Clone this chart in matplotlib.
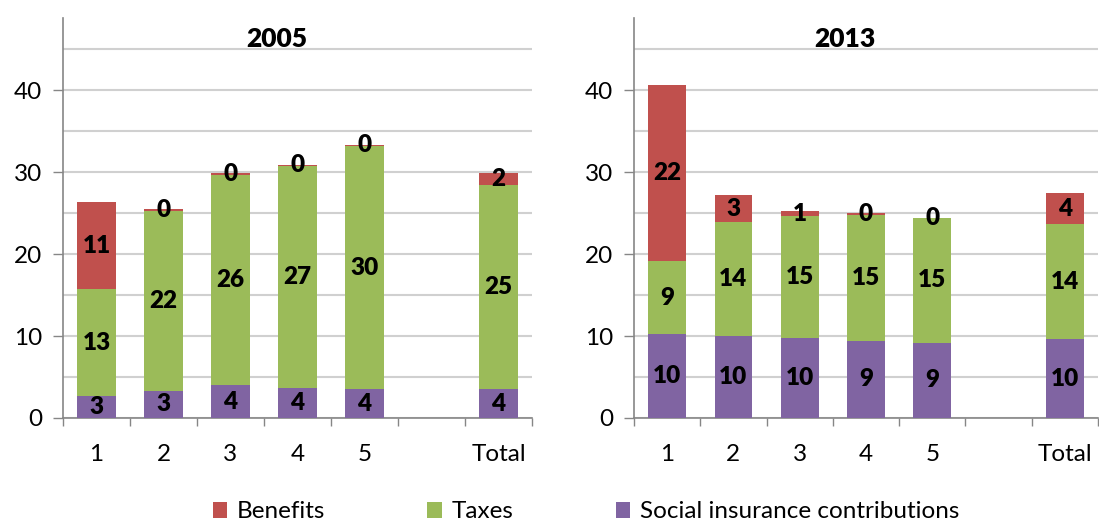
import numpy as np
import matplotlib
matplotlib.use("Agg")
import matplotlib.pyplot as plt
from matplotlib.ticker import FixedLocator, NullFormatter

plt.rcParams['font.family'] = ['Lato', 'DejaVu Sans']

categories = ['1', '2', '3', '4', '5', '', 'Total']
series_names = ['Benefits', 'Taxes', 'Social insurance contributions']

# 2005
sic_2005 = [2.7, 3.3, 4.0, 3.7, 3.5, np.nan, 3.5]
tax_2005 = [13.0, 22.0, 25.6, 27.1, 29.7, np.nan, 24.9]
ben_2005 = [10.6, 0.2, 0.3, 0.1, 0.1, np.nan, 1.5]
# 2013
sic_2013 = [10.2, 10.0, 9.8, 9.4, 9.2, np.nan, 9.6]
tax_2013 = [8.9, 13.9, 14.8, 15.4, 15.2, np.nan, 14.1]
ben_2013 = [21.5, 3.3, 0.6, 0.2, 0.05, np.nan, 3.7]

titles = ['2005', '2013']
colors = {'Benefits': '#C0504D', 'Taxes': '#9BBB59',
          'Social insurance contributions': '#8064A2'}

W, H = 1099, 523
fig = plt.figure(figsize=(W / 100, H / 100), dpi=100)

axes_px = [(63, 469), (634, 464)]
data = [(sic_2005, tax_2005, ben_2005), (sic_2013, tax_2013, ben_2013)]
grid_c = '#D0D0D0'
axis_c = '#868686'
FS = 17.5

for (left, width), (sic, tax, ben), title in zip(axes_px, data, titles):
    ax = fig.add_axes([left / W, 105 / H, width / W, 400 / H])
    x = np.arange(len(categories))
    sic = np.array(sic, float); tax = np.array(tax, float); ben = np.array(ben, float)
    bw = 0.57
    ax.bar(x, sic, bw, color=colors['Social insurance contributions'], zorder=3,
           label='Social insurance contributions')
    ax.bar(x, tax, bw, bottom=sic, color=colors['Taxes'], zorder=3, label='Taxes')
    ax.bar(x, ben, bw, bottom=sic + tax, color=colors['Benefits'], zorder=3, label='Benefits')
    for xi in x:
        if np.isnan(sic[xi]):
            continue
        segs = [(0, sic[xi]), (sic[xi], tax[xi]), (sic[xi] + tax[xi], ben[xi])]
        for b, h in segs:
            ax.text(xi, b + h / 2, f'{int(np.floor(h + 0.5))}', ha='center', va='center',
                    fontsize=FS, fontweight='heavy', color='black', zorder=4)
    ax.set_xlim(-0.5, len(categories) - 0.5)
    ax.set_ylim(0, 48.8)
    ax.yaxis.set_major_locator(FixedLocator([0, 10, 20, 30, 40]))
    ax.yaxis.set_minor_locator(FixedLocator([5, 15, 25, 35, 45]))
    ax.set_yticklabels(['0', '10', '20', '30', '40'])
    ax.grid(True, which='both', axis='y', color=grid_c, linewidth=1.5, zorder=0)
    ax.tick_params(axis='y', which='major', length=7, width=1, color=axis_c,
                   labelsize=FS, pad=8)
    ax.tick_params(axis='y', which='minor', length=0)
    # x: boundary ticks, centered labels
    ax.xaxis.set_major_locator(FixedLocator(np.arange(len(categories) + 1) - 0.5))
    ax.xaxis.set_major_formatter(NullFormatter())
    ax.xaxis.set_minor_locator(FixedLocator(x))
    ax.set_xticklabels(categories, minor=True)
    ax.tick_params(axis='x', which='major', length=6, width=1, color=axis_c, direction='out')
    ax.tick_params(axis='x', which='minor', length=0, labelsize=FS, pad=19)
    for s in ['top', 'right']:
        ax.spines[s].set_visible(False)
    for s in ['left', 'bottom']:
        ax.spines[s].set_color(axis_c)
        ax.spines[s].set_linewidth(1.2)
    ax.text(0.455, (48.8 - 2.6) / 48.8, title, transform=ax.transAxes, ha='center',
            va='center', fontsize=FS + 1.5, fontweight='heavy')
    last_ax = ax

handles, labels = last_ax.get_legend_handles_labels()
order = [labels.index(n) for n in series_names]
fig.legend([handles[i] for i in order], [labels[i] for i in order],
           loc='center', bbox_to_anchor=(586 / W, 1 - 512 / H), ncol=3, frameon=False,
           fontsize=FS, handlelength=0.6, handleheight=0.6, handletextpad=0.4,
           columnspacing=4.2)

fig.savefig('out.png', dpi=100)
